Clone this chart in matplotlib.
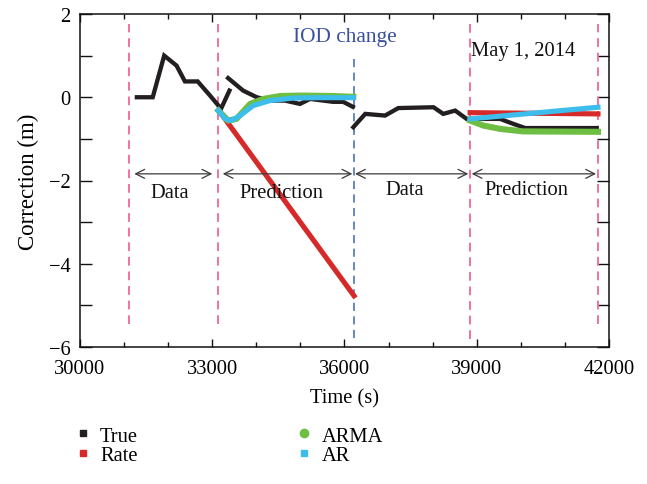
import numpy as np
import matplotlib
matplotlib.use("Agg")
import matplotlib.pyplot as plt
from matplotlib.lines import Line2D
from matplotlib.ticker import MultipleLocator

plt.rcParams["font.family"] = ["Liberation Serif", "DejaVu Serif"]

nan = np.nan

# Observed corrections
true_t = [31290, 31650, 31910, 32190, 32380, 32670, 32950, 33140, 33180, 33390, nan,
          33360, 33700, 34010, 34310, 34650, 34990, 35220, 35740, 35970, 36190, nan,
          36200, 36470, 36920, 37220, 38020, 38240, 38510, 38770, 39530, 39830, 40100, 41720]
true_v = [0.0, 0.0, 1.0, 0.76, 0.38, 0.38, 0.04, -0.20, -0.32, 0.16, nan,
          0.46, 0.16, 0.0, -0.08, -0.08, -0.16, -0.04, -0.11, -0.11, -0.23, nan,
          -0.72, -0.40, -0.44, -0.26, -0.24, -0.40, -0.32, -0.52, -0.52, -0.64, -0.74, -0.74]

# Rate-based prediction
rate_t = [33150, 36216, nan, 38850, 41750]
rate_v = [-0.32, -4.77, nan, -0.37, -0.40]

# ARMA prediction
arma_t = [33140, 33360, 33550, 33860, 34160, 34540, 34990, 35750, 36200, nan,
          38850, 39150, 39530, 40050, 41750]
arma_v = [-0.32, -0.56, -0.52, -0.16, -0.04, 0.03, 0.04, 0.03, 0.01, nan,
          -0.56, -0.68, -0.76, -0.82, -0.83]

# AR prediction
ar_t = [33140, 33290, 33440, 33630, 33930, 34310, 34840, 35370, 36200, nan,
        38850, 41750]
ar_v = [-0.32, -0.52, -0.56, -0.44, -0.20, -0.08, -0.02, -0.01, -0.01, nan,
        -0.52, -0.24]

# Window boundaries
pink_t = [31120, 33140, 38850, 41750]
pink_lo = [-5.45, -5.45, -5.8, -5.45]
pink_hi = [1.77, 1.77, 1.77, 1.77]
iod_t = 36216
iod_lo, iod_hi = -5.78, 1.0

# Data / prediction spans
span_start = [31232, 33237, 36239, 38885]
span_end = [33001, 36178, 38809, 41706]
span_label = ["Data", "Prediction", "Data", "Prediction"]
span_label_x = [32042, 34575, 37373, 40133]
span_y = -1.84
span_label_y = [-2.28, -2.28, -2.22, -2.22]

C_TRUE = "#231f20"
C_RATE = "#d62a2a"
C_ARMA = "#6fbe44"
C_AR = "#3dbdec"
C_PINK = "#f0739c"
C_IOD = "#5b7ec2"
FS = 14.8

fig = plt.figure(figsize=(6.47, 4.85), dpi=100)
ax = fig.add_axes([80 / 647, 1 - 348 / 485, 529 / 647, 333 / 485])

for t, lo, hi in zip(pink_t, pink_lo, pink_hi):
    ax.plot([t, t], [lo, hi], color=C_PINK, lw=1.4, dashes=(4.5, 3))
ax.plot([iod_t, iod_t], [iod_lo, iod_hi], color=C_IOD, lw=1.3, dashes=(4.5, 3))

ax.plot(true_t, true_v, color=C_TRUE, lw=3.1, solid_joinstyle="miter")
ax.plot(rate_t, rate_v, color=C_RATE, lw=3.7)
ax.plot(arma_t, arma_v, color=C_ARMA, lw=4.4)
ax.plot(ar_t, ar_v, color=C_AR, lw=3.7)

for s, e in zip(span_start, span_end):
    ax.annotate("", xy=(e, span_y), xytext=(s, span_y),
                arrowprops=dict(arrowstyle="<->", color="#3a3a3a", lw=0.9,
                                shrinkA=0, shrinkB=0, mutation_scale=16))
for x, y, lab in zip(span_label_x, span_label_y, span_label):
    ax.text(x, y, lab, ha="center", va="center", fontsize=FS, color="#111111")

ax.text(34832, 1.45, "IOD change", ha="left", va="center", fontsize=FS + 0.6, color="#3a4fa0")
ax.text(38870, 1.12, "May 1, 2014", ha="left", va="center", fontsize=FS, color="#111111")

ax.set_xlim(30000, 42000)
ax.set_ylim(-6, 2)
ax.xaxis.set_major_locator(MultipleLocator(3000))
ax.xaxis.set_minor_locator(MultipleLocator(1000))
ax.yaxis.set_major_locator(MultipleLocator(2))
ax.yaxis.set_minor_locator(MultipleLocator(1))
ax.tick_params(axis="both", which="both", direction="in", top=True, right=True,
               labelsize=FS, width=1.0, color="#111111")
ax.tick_params(axis="x", which="major", length=6, pad=9)
ax.tick_params(axis="x", which="minor", length=3.5)
ax.tick_params(axis="y", which="both", length=8.5, pad=7)
for sp in ax.spines.values():
    sp.set_linewidth(1.1)
    sp.set_color("#111111")

ax.set_xlabel("Time (s)", fontsize=FS, labelpad=7)
ax.set_ylabel("Correction (m)", fontsize=16.5, labelpad=7)

handles = [
    Line2D([], [], ls="none", marker="s", ms=5, color=C_TRUE),
    Line2D([], [], ls="none", marker="s", ms=5, color=C_RATE),
    Line2D([], [], ls="none", marker="o", ms=6, color=C_ARMA),
    Line2D([], [], ls="none", marker="s", ms=5, color=C_AR),
]
fig.legend(handles, ["True", "Rate", "ARMA", "AR"], ncol=2, frameon=False,
           fontsize=FS, loc="upper left", bbox_to_anchor=(64 / 647, 1 - 419 / 485),
           handlelength=1.0, handletextpad=0.35, columnspacing=7.6,
           labelspacing=0.0, borderaxespad=0)

fig.savefig("out.png", dpi=100)
